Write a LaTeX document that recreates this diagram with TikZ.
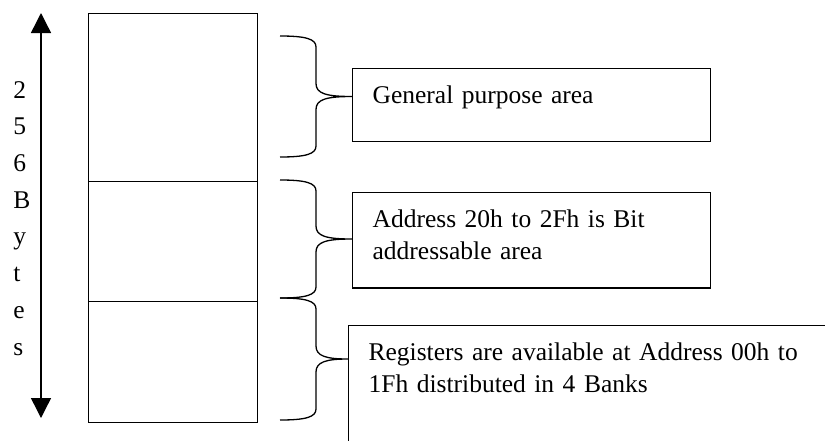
\documentclass[tikz,border=0pt]{standalone}
\usepackage{fontspec}
\setmainfont{Liberation Serif}
\usetikzlibrary{arrows.meta}

\begin{document}
\begin{tikzpicture}[x=0.5pt,y=-0.5pt]
\tikzset{cell/.style={draw,line width=0.65pt,minimum width=84.5pt,inner sep=0pt,anchor=north west},
  infobox/.style={draw,line width=0.65pt,anchor=north west,align=left,inner xsep=10pt,inner ysep=8.7pt,font=\fontsize{12.75}{15.8}\selectfont},
  curl/.style={line width=0.65pt}}
\useasboundingbox (0,0) rectangle (825,440);
\clip (0,0) rectangle (825,440);

% the 256 byte RAM, lowest addresses at the bottom
\node[cell,minimum height=84pt] (gpram) at (88,13) {};
\node[cell,minimum height=60pt] (bitram) at (88,181) {};
\node[cell,minimum height=60.5pt] (regram) at (88,301) {};

% size arrow and its vertical label
\coordinate (atop) at (41,13);
\coordinate (abot) at (41,418);
\draw[line width=0.7pt,{Triangle[width=10pt,length=10pt]}-{Triangle[width=10pt,length=10pt]}] (atop) -- (abot);
\node[anchor=base west,align=left,inner sep=0pt,font=\fontsize{12.75}{18.35}\selectfont] (size) at (13,355) {2\\5\\6\\B\\y\\t\\e\\s};

% the three areas
\node[infobox,text width=159pt,text depth=10.2pt] (gp) at (352,68) {General purpose area};
\node[infobox,text width=159pt,text depth=21.4pt] (bit) at (352,192) {Address 20h to 2Fh is Bit\\addressable area};
\node[infobox,text width=280pt,text depth=50pt] (reg) at (348,325) {Registers are available at Address 00h to\\1Fh distributed in 4 Banks};

% curly braces from each area to its text
\foreach \ytop/\ybot/\nm in {36/157/gp, 180/298/bit, 298/420/reg}
{
    \pgfmathsetmacro{\ymid}{(\ytop+\ybot)/2}
    \coordinate (tip) at (\nm.west |- 0,\ymid);
    \draw[curl] (280,\ytop) .. controls (306,\ytop) and (316,\ytop+3) .. (316,\ytop+11)
        -- (316,\ymid-13) .. controls (316,\ymid-3) and (326,\ymid) .. (tip)
        .. controls (326,\ymid) and (316,\ymid+3) .. (316,\ymid+13)
        -- (316,\ybot-11) .. controls (316,\ybot-3) and (306,\ybot) .. (280,\ybot);
}
\end{tikzpicture}
\end{document}
